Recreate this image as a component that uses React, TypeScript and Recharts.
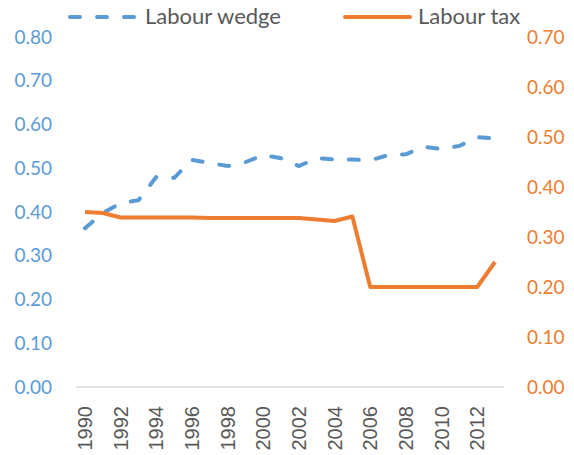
import { Line, LineChart, XAxis, YAxis } from 'recharts';

const years = [
    '1990', '1991', '1992', '1993', '1994', '1995', '1996', '1997', '1998', '1999', '2000', '2001',
    '2002', '2003', '2004', '2005', '2006', '2007', '2008', '2009', '2010', '2011', '2012', '2013',
];

const labourWedge = [
    0.363, 0.398, 0.42, 0.427, 0.48, 0.478, 0.519, 0.512, 0.505, 0.514, 0.53, 0.523,
    0.505, 0.523, 0.52, 0.52, 0.518, 0.53, 0.532, 0.549, 0.544, 0.551, 0.571, 0.568,
];

const labourTax = [
    0.35, 0.348, 0.339, 0.339, 0.339, 0.339, 0.339, 0.338, 0.338, 0.338, 0.338, 0.338,
    0.338, 0.335, 0.332, 0.341, 0.2, 0.2, 0.2, 0.2, 0.2, 0.2, 0.2, 0.25,
];

const leftTicks = [0, 0.1, 0.2, 0.3, 0.4, 0.5, 0.6, 0.7, 0.8];
const rightTicks = [0, 0.1, 0.2, 0.3, 0.4, 0.5, 0.6, 0.7];

const BLUE = '#5B9BD5';
const ORANGE = '#ED7D31';
const GREY_TEXT = '#595959';
const AXIS_FONT = 'Lato, "Open Sans", sans-serif';

const data = years.map((year, i) => ({
    year,
    wedge: labourWedge[i],
    tax: labourTax[i],
}));

function YearTick({ x, y, payload }: any) {
    return (
        <text
            x={x}
            y={y + 11}
            transform={`rotate(-90 ${x} ${y + 11})`}
            textAnchor="end"
            dy="0.35em"
            fill={GREY_TEXT}
            fontSize={20}
            fontFamily='"Liberation Sans", Arial, sans-serif'
        >
            {payload.value}
        </text>
    );
}

// legend drawn by hand so it doesn't push the plot area down
function ChartLegend() {
    const text = { fontFamily: AXIS_FONT, fontSize: 22, color: GREY_TEXT, lineHeight: '24px' };
    return (
        <div style={{ position: 'absolute', left: 0, top: 0, width: 574, height: 34 }}>
            <svg width={574} height={34} style={{ position: 'absolute', left: 0, top: 0 }}>
                <line x1={70} x2={136} y1={17} y2={17} stroke={BLUE} strokeWidth={4}
                    strokeDasharray="10 17" strokeLinecap="round" />
                <line x1={345} x2={410} y1={17} y2={17} stroke={ORANGE} strokeWidth={4}
                    strokeLinecap="round" />
            </svg>
            <span style={{ ...text, position: 'absolute', left: 145, top: 4 }}>Labour wedge</span>
            <span style={{ ...text, position: 'absolute', left: 418, top: 4 }}>Labour tax</span>
        </div>
    );
}

export default function App() {
    return (
        <div style={{ position: 'absolute', left: 0, top: 0, width: 574, height: 455, background: '#fff' }}>
            <LineChart width={574} height={455} data={data} margin={{ top: 37, right: 0, left: 0, bottom: 0 }}>
                <XAxis
                    dataKey="year"
                    interval={1}
                    height={68}
                    tickLine={false}
                    axisLine={{ stroke: '#D9D9D9', strokeWidth: 1.5 }}
                    padding={{ left: 9, right: 9 }}
                    tick={<YearTick />}
                />
                <YAxis
                    yAxisId="left"
                    orientation="left"
                    width={76}
                    domain={[0, 0.8]}
                    ticks={leftTicks}
                    tickFormatter={(v: number) => v.toFixed(2)}
                    axisLine={false}
                    tickLine={false}
                    tickSize={0}
                    tickMargin={24}
                    tick={{ fill: BLUE, fontSize: 19, fontFamily: AXIS_FONT }}
                />
                <YAxis
                    yAxisId="right"
                    orientation="right"
                    width={70}
                    domain={[0, 0.7]}
                    ticks={rightTicks}
                    tickFormatter={(v: number) => v.toFixed(2)}
                    axisLine={false}
                    tickLine={false}
                    tickSize={0}
                    tickMargin={23}
                    tick={{ fill: ORANGE, fontSize: 19, fontFamily: AXIS_FONT }}
                />
                <Line
                    yAxisId="left"
                    dataKey="wedge"
                    type="linear"
                    stroke={BLUE}
                    strokeWidth={4}
                    strokeDasharray="10 17"
                    strokeLinecap="round"
                    dot={false}
                    activeDot={false}
                    isAnimationActive={false}
                />
                <Line
                    yAxisId="right"
                    dataKey="tax"
                    type="linear"
                    stroke={ORANGE}
                    strokeWidth={4}
                    strokeLinejoin="round"
                    dot={false}
                    activeDot={false}
                    isAnimationActive={false}
                />
            </LineChart>
            <ChartLegend />
        </div>
    );
}
